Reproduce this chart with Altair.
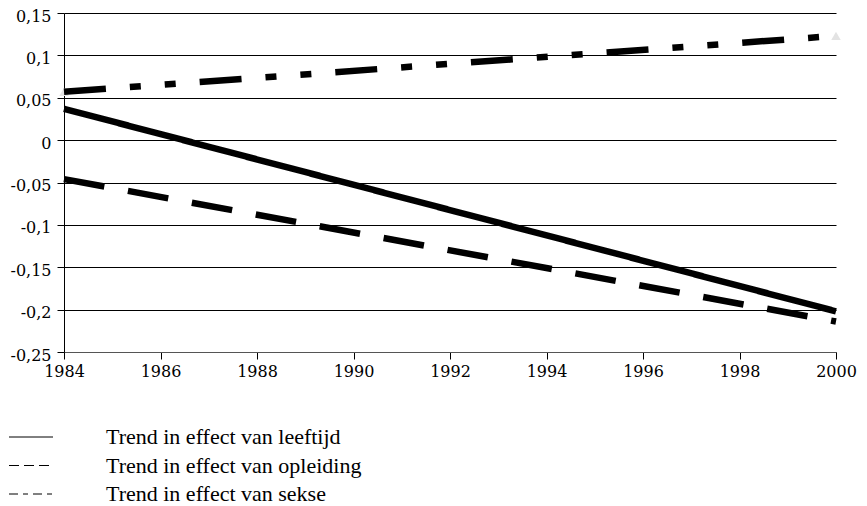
import altair as alt
import pandas as pd

years = [1984, 2000]
series_names = [
    "Trend in effect van leeftijd",
    "Trend in effect van opleiding",
    "Trend in effect van sekse",
]
leeftijd = [0.037, -0.202]
opleiding = [-0.046, -0.214]
sekse = [0.057, 0.123]
y_ticks = [-0.25, -0.2, -0.15, -0.1, -0.05, 0, 0.05, 0.1, 0.15]
x_ticks = [1984, 1986, 1988, 1990, 1992, 1994, 1996, 1998, 2000]

rows = []
for name, vals in zip(series_names, [leeftijd, opleiding, sekse]):
    for yr, v in zip(years, vals):
        rows.append({"year": yr, "value": v, "series": name})
df = pd.DataFrame(rows)
df_markers = df[df["series"] == series_names[2]]
legend_df = pd.DataFrame({"item": series_names})

FONT = "Liberation Serif"
AXFONT = "DejaVu Serif"

x_enc = alt.X(
    "year:Q",
    scale=alt.Scale(domain=[1984, 2000], nice=False, zero=False),
    axis=alt.Axis(
        values=x_ticks, format="d", title=None, grid=False,
        tickSize=7, tickColor="#000000", domainColor="#555555",
        labelPadding=4, labelFlush=False,
        labelFont=AXFONT, labelFontSize=16, labelColor="#000000",
    ),
)
y_enc = alt.Y(
    "value:Q",
    scale=alt.Scale(domain=[-0.25, 0.15], nice=False, zero=False),
    axis=alt.Axis(
        values=y_ticks, title=None, grid=True, gridColor="#000000",
        gridWidth=1, tickSize=7, tickColor="#000000", domainColor="#000000",
        labelPadding=6, labelOffset=3,
        labelFont=AXFONT, labelFontSize=16, labelColor="#000000",
        labelExpr="(datum.value < -0.0001 ? '-' : '') + replace(format(abs(datum.value), '.2~f'), '.', ',')",
    ),
)

markers = alt.Chart(df_markers).mark_point(
    shape="triangle-up", filled=True, color="#e3e3e3", size=90, opacity=1
).encode(x=x_enc, y=y_enc)

lines = alt.Chart(df).mark_line(color="#000000", strokeWidth=6.5, strokeCap="butt").encode(
    x=x_enc,
    y=y_enc,
    detail="series:N",
    strokeDash=alt.StrokeDash(
        "series:N",
        scale=alt.Scale(domain=series_names, range=[[1, 0], [41, 24], [42, 24, 11, 24, 11, 24]]),
        legend=None,
    ),
)

main = alt.layer(markers, lines).properties(width=772, height=339)

leg_y = alt.Y("item:N", sort=series_names, axis=None,
              scale=alt.Scale(type="point", padding=0))
leg_lines = alt.Chart(legend_df).mark_rule(color="#000000", strokeWidth=1).encode(
    x=alt.value(-55), x2=alt.value(-11), y=leg_y,
    strokeDash=alt.StrokeDash(
        "item:N",
        scale=alt.Scale(domain=series_names, range=[[1, 0], [10, 5], [9, 5, 5, 5]]),
        legend=None,
    ),
)
leg_text = alt.Chart(legend_df).mark_text(
    align="left", baseline="middle", font=FONT, fontSize=22, color="#000000"
).encode(x=alt.value(42), y=leg_y, text="item:N")

legend_chart = alt.layer(leg_lines, leg_text).properties(width=772, height=57)

chart = alt.vconcat(main, legend_chart, spacing=47).resolve_scale(
    strokeDash="independent"
).configure_view(stroke=None).properties(
    background="#ffffff", padding=0
)

chart.save("out.html", embed_options={"renderer": "svg", "actions": False})
